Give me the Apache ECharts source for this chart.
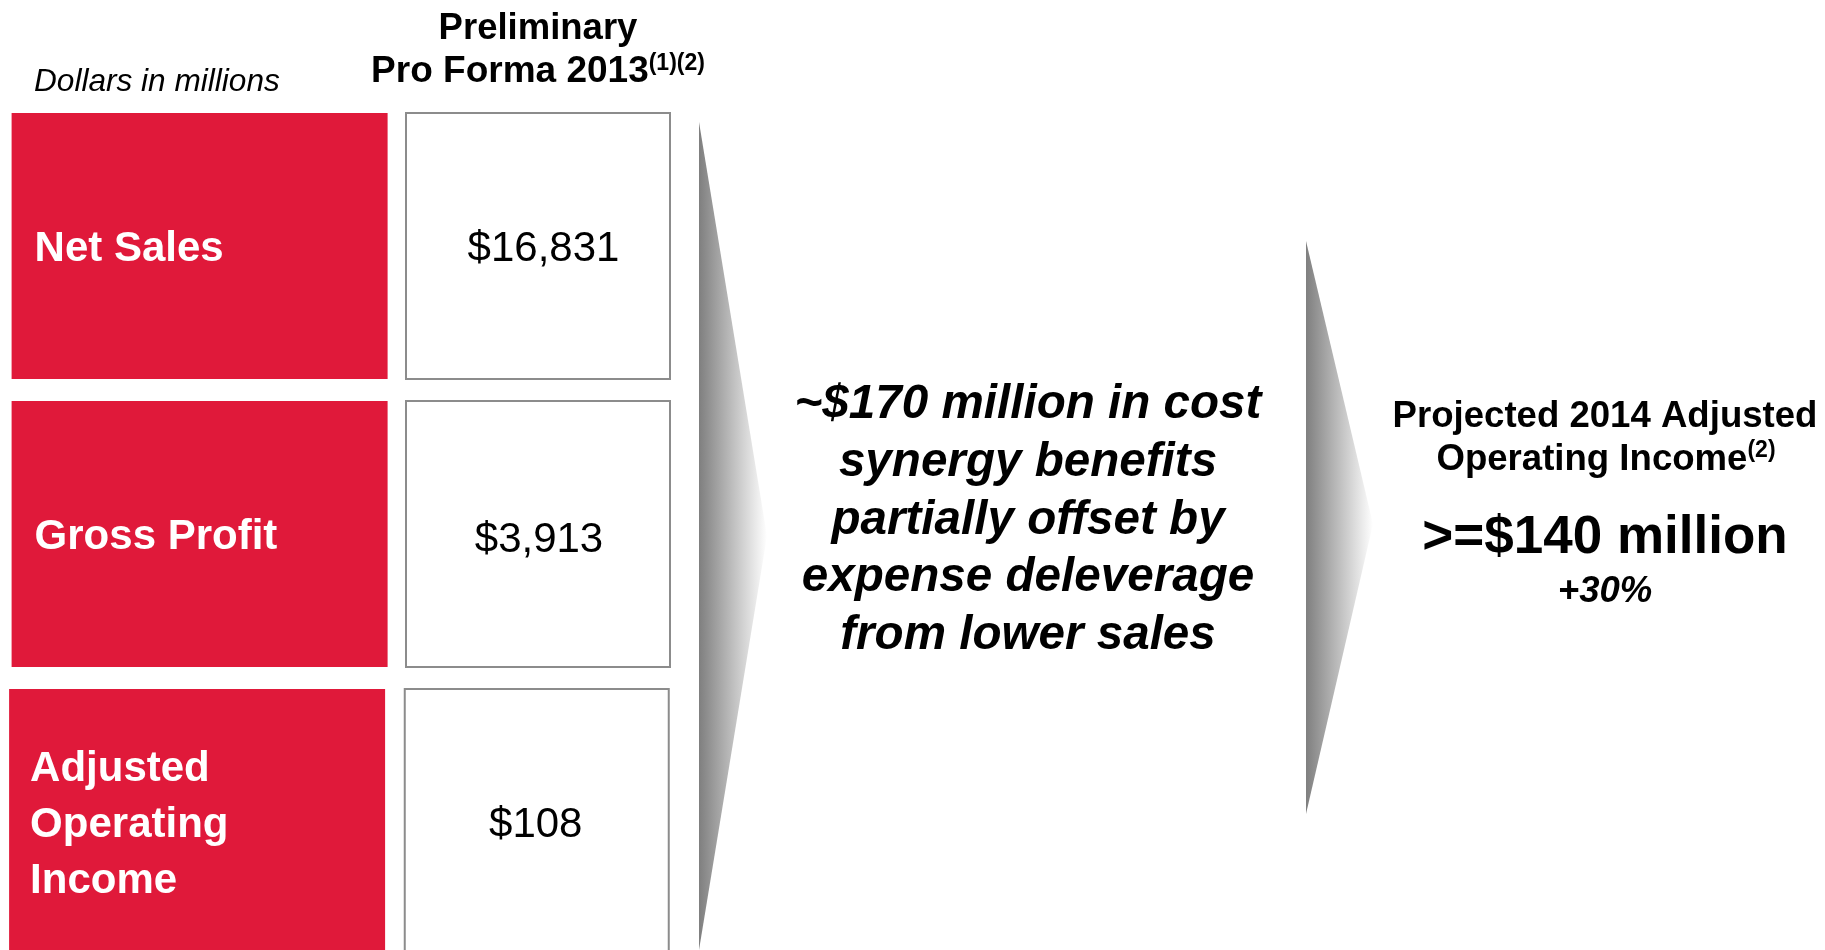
<!DOCTYPE html>
<html><head><meta charset="utf-8">
<script src="https://cdn.jsdelivr.net/npm/echarts@6/dist/echarts.min.js"></script>
<style>html,body{margin:0;padding:0;background:#fff}#c{width:1825px;height:950px}</style>
</head><body><div id="c"></div>
<script>
// ---- data ----
const categories = ['Net Sales', 'Gross Profit', 'Adjusted\nOperating\nIncome'];
const proForma2013 = [16831, 3913, 108];          // $ millions
const unitNote = 'Dollars in millions';
const columnTitle = ['Preliminary', 'Pro Forma 2013'];
const columnTitleNote = '(1)(2)';
const synergyText = ['~$170 million in cost', 'synergy benefits', 'partially offset by', 'expense deleverage', 'from lower sales'];
const projectedTitle = ['Projected 2014 Adjusted', 'Operating Income'];
const projectedNote = '(2)';
const projectedValue = 140;   // $ millions
const projectedGrowth = 30;   // percent

// ---- styling / layout ----
const FONT = '"Liberation Sans", Arial, Helvetica, sans-serif';
const RED = '#E0193A';
const BORDER = '#8c8c8c';
const rowShift = [0, 0, -2.5];
const valueDx = [5.5, 1, -1];
const valueDy = [3.5, 6.5, 3.5];
const labelDy = 3.5;

function money(v) { return '$' + v.toLocaleString('en-US'); }

function arrowFill() {
  return new echarts.graphic.LinearGradient(0, 0, 1, 0, [
    { offset: 0, color: '#7f7f7f' },
    { offset: 1, color: '#ffffff' }
  ]);
}

const supStyle = { fill: '#000', fontFamily: FONT, fontWeight: 'bold', fontSize: 23, verticalAlign: 'top', lineHeight: 26 };

const chart = echarts.init(document.getElementById('c'), null, { renderer: 'canvas' });
chart.setOption({
  animation: false,
  backgroundColor: '#ffffff',
  grid: { left: 0, width: 1825, top: 102, height: 864, outerBoundsMode: 'none', containLabel: false },
  xAxis: { type: 'value', min: 0, max: 1825, show: false },
  yAxis: { type: 'category', data: categories, inverse: true, show: false },
  series: [{
    type: 'custom',
    clip: false,
    encode: { x: 0, y: 1 },
    data: proForma2013.map((v, i) => [0, i, v]),
    renderItem(params, api) {
      const i = api.value(1);
      const v = api.value(2);
      const c = api.coord([0, i]);
      const band = api.size([0, 1])[1];
      const h = band - 22;
      const top = c[1] - h / 2;
      const shift = rowShift[i];
      const redX = 11.6 + shift, redW = 376;
      const boxX = 406 + shift * 0.5, boxW = 264;
      return {
        type: 'group',
        children: [
          { type: 'rect', shape: { x: redX, y: top, width: redW, height: h }, style: { fill: RED } },
          { type: 'rect', shape: { x: boxX, y: top, width: boxW, height: h }, style: { fill: '#fff', stroke: BORDER, lineWidth: 2 } },
          { type: 'text', x: redX + 23 + (i === 2 ? -2 : 0), y: c[1] + labelDy,
            style: { text: categories[i], fill: '#fff', fontFamily: FONT, fontWeight: 'bold', fontSize: 42,
                     lineHeight: 56, align: 'left', verticalAlign: 'middle' } },
          { type: 'text', x: boxX + boxW / 2 + valueDx[i], y: c[1] + valueDy[i],
            style: { text: money(v), fill: '#000', fontFamily: FONT, fontSize: 42,
                     align: 'center', verticalAlign: 'middle' } }
        ]
      };
    }
  }],
  graphic: [
    { type: 'polygon', z: 1, shape: { points: [[699, 122], [767, 536], [699, 950]] }, style: { fill: arrowFill() } },
    { type: 'polygon', z: 1, shape: { points: [[1306, 241], [1373, 524], [1306, 814]] }, style: { fill: arrowFill() } },
    { type: 'text', x: 34, y: 82,
      style: { text: unitNote, fill: '#000', fontFamily: FONT, fontStyle: 'italic', fontSize: 31.6, align: 'left', verticalAlign: 'middle' } },
    { type: 'text', x: 538, y: 29,
      style: { text: columnTitle[0], fill: '#000', fontFamily: FONT, fontWeight: 'bold', fontSize: 36.5, align: 'center', verticalAlign: 'middle' } },
    { type: 'text', x: 538, y: 72,
      style: { text: '{m|' + columnTitle[1] + '}{s|' + columnTitleNote + '}', align: 'center', verticalAlign: 'middle',
        rich: {
          m: { fill: '#000', fontFamily: FONT, fontWeight: 'bold', fontSize: 37, lineHeight: 40 },
          s: supStyle
        } } },
    { type: 'text', x: 1028, y: 520.5,
      style: { text: synergyText.join('\n'), fill: '#000', fontFamily: FONT, fontWeight: 'bold', fontStyle: 'italic',
               fontSize: 47.6, lineHeight: 57.7, align: 'center', verticalAlign: 'middle' } },
    { type: 'text', x: 1605, y: 416.5,
      style: { text: projectedTitle[0], fill: '#000', fontFamily: FONT, fontWeight: 'bold', fontSize: 36.6, align: 'center', verticalAlign: 'middle' } },
    { type: 'text', x: 1606, y: 459.5,
      style: { text: '{m|' + projectedTitle[1] + '}{s|' + projectedNote + '}', align: 'center', verticalAlign: 'middle',
        rich: {
          m: { fill: '#000', fontFamily: FONT, fontWeight: 'bold', fontSize: 36.6, lineHeight: 40 },
          s: supStyle
        } } },
    { type: 'text', x: 1605, y: 538,
      style: { text: '>=$' + projectedValue + ' million', fill: '#000', fontFamily: FONT, fontWeight: 'bold', fontSize: 53, align: 'center', verticalAlign: 'middle' } },
    { type: 'text', x: 1605, y: 592,
      style: { text: '+' + projectedGrowth + '%', fill: '#000', fontFamily: FONT, fontWeight: 'bold', fontStyle: 'italic', fontSize: 36.5, align: 'center', verticalAlign: 'middle' } }
  ]
});
</script></body></html>
